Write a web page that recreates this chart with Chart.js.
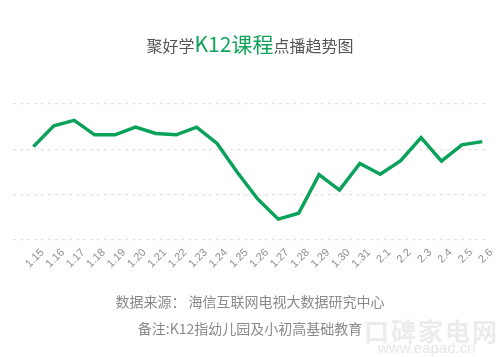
<!DOCTYPE html>
<html>
<head>
<meta charset="utf-8">
<script src="https://cdn.jsdelivr.net/npm/chart.js@4"></script>
<style>
  html, body { margin:0; padding:0; background:#fff; }
  #wrap { position:relative; width:500px; height:357px; overflow:hidden; font-family:"Noto Sans CJK SC","Noto Sans",sans-serif; }
  #c { position:absolute; left:0; top:0; }
  .t { position:absolute; left:0; width:500px; text-align:center; white-space:nowrap; }
  #title { top:28px; color:#555; font-size:16px; line-height:30px; }
  #title .g { color:#11a35a; font-size:21px; }
  #src { top:291px; color:#8a8a8a; font-size:14px; line-height:20px; }
  #note { top:318px; color:#8a8a8a; font-size:14px; line-height:20px; }
  #wm1 { position:absolute; left:364px; top:312px; color:#ececec; font-size:25px; font-weight:bold; letter-spacing:2px; white-space:nowrap; }
  #wm2 { position:absolute; left:378px; top:339px; color:#e6e6e6; font-size:15px; font-family:"Liberation Sans",sans-serif; white-space:nowrap; }
</style>
</head>
<body>
<div id="wrap">
  <canvas id="c" width="500" height="357"></canvas>
  <div class="t" id="title">聚好学<span class="g">K12课程</span>点播趋势图</div>
  <div class="t" id="src">数据来源： 海信互联网电视大数据研究中心</div>
  <div id="wm1">口碑家电网</div>
  <div id="wm2">www.eapad.cn</div>
  <div class="t" id="note">备注:K12指幼儿园及小初高基础教育</div>
</div>
<script>
const categories = ["1.15","1.16","1.17","1.18","1.19","1.20","1.21","1.22","1.23","1.24","1.25","1.26","1.27","1.28","1.29","1.30","1.31","2.1","2.2","2.3","2.4","2.5","2.6"];
const views = [2.06,2.52,2.64,2.32,2.32,2.49,2.35,2.32,2.49,2.13,1.49,0.90,0.46,0.59,1.44,1.10,1.69,1.45,1.75,2.26,1.74,2.10,2.17];
const gridValues = [0,1,2,3];

const points = views.map((v, i) => ({ x: i, y: v }));

new Chart(document.getElementById('c'), {
  type: 'line',
  data: {
    datasets: [{
      data: points,
      borderColor: '#0aa25b',
      borderWidth: 3.5,
      pointRadius: 0,
      tension: 0,
      fill: false
    }]
  },
  options: {
    responsive: false,
    animation: false,
    devicePixelRatio: 1,
    layout: { padding: { left: 13, right: 12, top: 104, bottom: 0 } },
    plugins: { legend: { display: false }, tooltip: { enabled: false }, title: { display: false } },
    scales: {
      x: {
        type: 'linear',
        min: -1,
        max: 22.28,
        grid: { display: false, drawTicks: false },
        border: { display: false },
        afterBuildTicks: (axis) => { axis.ticks = categories.map((_, i) => ({ value: i })); },
        afterFit: (axis) => { axis.height = 117; },
        ticks: {
          autoSkip: false,
          maxRotation: 45,
          minRotation: 45,
          padding: 6,
          labelOffset: 9,
          color: '#8f8f8f',
          font: { family: 'Liberation Sans', size: 11 },
          callback: (value) => categories[value]
        }
      },
      y: {
        min: gridValues[0],
        max: gridValues[gridValues.length - 1],
        afterBuildTicks: (axis) => { axis.ticks = gridValues.map(v => ({ value: v })); },
        afterFit: (axis) => { axis.width = 0; },
        grid: { color: '#e2e2e2', lineWidth: 1.2, drawTicks: false },
        border: { display: false, dash: [3, 4] },
        ticks: { display: false }
      }
    }
  }
});
</script>
</body>
</html>
